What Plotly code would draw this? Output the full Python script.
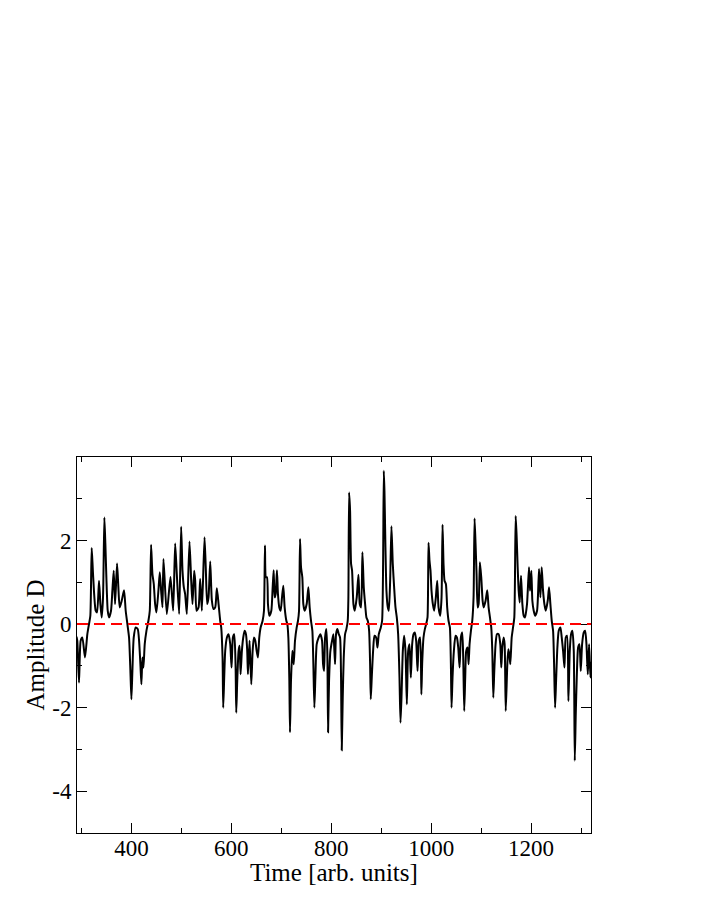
import plotly.graph_objects as go

# values (time, amplitude)
TIME = [
    290.0, 291.6, 295.0, 298.3, 301.7, 307.0, 311.7, 315.0, 317.7, 320.4,
    323.1, 328.4, 331.1, 335.1, 337.8, 340.4, 343.1, 345.8, 347.8, 349.8,
    352.5, 355.1, 359.1, 361.8, 364.5, 367.2, 371.2, 373.8, 376.5, 380.5,
    385.2, 388.5, 391.9, 395.2, 397.9, 399.9, 401.9, 404.6, 408.6, 412.6,
    415.3, 417.9, 419.9, 422.0, 424.0, 426.6, 430.0, 434.0, 436.7, 439.3,
    442.0, 444.7, 447.4, 450.0, 454.0, 456.7, 459.4, 462.1, 464.1, 470.8,
    478.1, 483.5, 487.5, 490.8, 495.5, 499.5, 502.2, 504.9, 507.5, 510.9,
    516.2, 519.6, 522.2, 525.6, 527.6, 530.3, 534.3, 537.6, 541.0, 546.3,
    549.0, 551.6, 554.3, 557.7, 561.0, 564.3, 567.7, 571.0, 574.4, 577.7,
    579.7, 582.4, 583.7, 585.7, 587.7, 591.1, 594.4, 597.8, 600.4, 603.1,
    605.8, 608.4, 609.8, 611.8, 614.5, 616.5, 618.5, 621.1, 623.8, 626.5,
    629.2, 631.8, 633.2, 636.5, 639.9, 642.6, 645.2, 647.9, 650.6, 653.2,
    655.9, 658.6, 662.6, 665.3, 667.3, 669.3, 671.3, 673.3, 676.0, 680.0,
    682.7, 684.7, 686.7, 688.7, 691.3, 693.3, 696.0, 698.7, 701.4, 704.0,
    706.7, 710.1, 712.1, 714.1, 716.1, 717.4, 719.4, 722.1, 724.8, 727.4,
    730.8, 733.4, 735.5, 737.5, 739.5, 742.1, 744.1, 746.8, 750.8, 754.2,
    756.8, 759.5, 762.2, 764.2, 766.2, 768.2, 770.9, 774.9, 778.2, 781.6,
    783.6, 785.6, 787.6, 790.2, 792.2, 793.6, 795.6, 798.3, 801.6, 804.3,
    807.6, 809.6, 812.3, 815.0, 817.6, 819.6, 821.0, 823.0, 825.0, 827.7,
    830.3, 833.0, 834.3, 835.7, 837.7, 839.7, 841.7, 844.4, 847.0, 851.0,
    854.4, 857.1, 859.7, 862.4, 865.1, 867.8, 870.4, 873.1, 875.8, 877.8,
    879.1, 881.1, 883.8, 886.5, 889.8, 892.5, 895.2, 899.2, 901.8, 903.8,
    905.2, 906.5, 908.5, 910.5, 913.2, 915.2, 917.9, 920.5, 923.2, 925.9,
    928.6, 931.2, 933.9, 936.6, 938.6, 940.6, 943.3, 945.9, 948.6, 951.3,
    954.0, 956.6, 959.3, 962.0, 964.7, 967.3, 970.0, 972.7, 975.3, 978.0,
    980.4, 982.0, 984.7, 987.4, 990.0, 992.7, 994.7, 996.7, 998.7, 1000.7,
    1003.4, 1006.1, 1009.4, 1012.1, 1014.8, 1018.1, 1020.8, 1022.8, 1024.8, 1026.8,
    1029.5, 1032.1, 1034.8, 1037.5, 1039.5, 1040.8, 1042.8, 1045.5, 1048.8, 1051.5,
    1054.2, 1056.9, 1059.5, 1062.2, 1064.2, 1066.2, 1068.2, 1070.2, 1072.9, 1074.9,
    1076.9, 1079.6, 1082.3, 1084.9, 1086.9, 1088.9, 1090.9, 1093.0, 1095.0, 1097.6,
    1100.3, 1103.0, 1105.0, 1109.0, 1112.3, 1115.0, 1117.7, 1120.3, 1122.4, 1124.4,
    1126.4, 1129.0, 1131.7, 1135.1, 1138.4, 1140.4, 1142.4, 1145.1, 1147.1, 1149.3,
    1152.5, 1154.5, 1156.5, 1158.5, 1161.2, 1163.9, 1166.5, 1169.2, 1171.2, 1173.2,
    1175.2, 1177.2, 1179.9, 1182.6, 1185.3, 1187.9, 1191.9, 1195.9, 1197.9, 1200.6,
    1202.6, 1205.3, 1208.0, 1212.0, 1216.0, 1218.7, 1221.3, 1224.0, 1226.7, 1229.4,
    1233.4, 1236.0, 1238.7, 1241.4, 1244.1, 1246.1, 1248.1, 1250.1, 1252.7, 1255.4,
    1258.8, 1261.4, 1264.1, 1266.8, 1269.5, 1272.1, 1274.8, 1277.5, 1280.1, 1282.8,
    1285.5, 1287.5, 1289.5, 1291.5, 1294.2, 1296.9, 1299.5, 1302.2, 1305.5, 1308.2,
    1310.9, 1313.6, 1316.2, 1318.9, 1321.0,
]

AMPLITUDE = [
    -0.30, -0.40, -1.40, -0.40, -0.32, -0.80, -0.24, 0.00, 0.20, 1.82,
    1.20, 0.32, 0.28, 1.04, 0.48, 0.16, 0.64, 2.55, 1.92, 1.12,
    0.32, 0.16, 0.32, 0.80, 1.28, 0.48, 1.45, 0.88, 0.40, 0.56,
    0.81, 0.32, 0.00, -0.32, -1.12, -1.80, -1.12, -0.32, -0.08, -0.12,
    -0.40, -0.96, -1.44, -0.80, -1.04, -0.48, -0.16, 0.08, 0.32, 1.90,
    1.20, 0.96, 0.48, 0.28, 0.80, 1.24, 0.80, 0.40, 1.56, 0.24,
    1.13, 0.32, 1.93, 1.20, 0.24, 2.33, 1.28, 0.88, 0.72, 0.24,
    1.98, 1.04, 0.48, 1.28, 1.04, 0.32, 0.40, 1.08, 0.32, 2.08,
    1.28, 0.48, 0.64, 1.50, 0.56, 0.36, 0.40, 0.86, 0.48, 0.08,
    -0.08, -0.80, -2.00, -1.28, -0.64, -0.32, -0.24, -0.48, -1.04, -0.32,
    -0.24, -0.96, -2.12, -1.36, -0.64, -0.52, -1.20, -0.64, -0.32, -0.16,
    -0.24, -0.64, -1.20, -0.40, -1.44, -0.64, -0.32, -0.40, -0.64, -0.80,
    -0.32, -0.08, 0.08, 0.32, 1.88, 1.12, 1.12, 0.48, 0.20, 0.32,
    0.88, 1.29, 0.64, 0.72, 1.29, 0.72, 0.40, 0.32, 0.64, 0.92,
    0.40, 0.08, 0.00, -0.32, -1.36, -2.59, -1.36, -0.64, -0.96, -0.40,
    -0.08, 0.08, 0.32, 2.04, 1.36, 1.12, 0.48, 0.32, 0.48, 0.88,
    0.40, 0.08, -0.16, -0.96, -2.00, -1.28, -0.48, -0.32, -0.24, -0.40,
    -0.96, -1.12, -0.32, -0.12, -0.72, -2.59, -1.36, -0.64, -0.40, -0.24,
    -0.96, -0.24, -0.12, -0.24, -0.32, -1.28, -3.02, -1.76, -0.80, -0.24,
    -0.12, 0.08, 0.64, 3.15, 2.71, 1.44, 1.28, 0.48, 0.32, 0.64,
    1.18, 0.48, 0.40, 1.72, 0.88, 0.48, 0.16, 0.08, -0.16, -0.96,
    -1.80, -1.28, -0.64, -0.28, -0.32, -0.56, -0.24, -0.08, 0.08, 1.44,
    3.67, 3.19, 1.84, 0.80, 0.40, 0.32, 1.04, 2.34, 1.44, 0.88,
    0.40, 0.16, -0.24, -1.28, -2.36, -1.76, -0.64, -0.28, -0.64, -1.92,
    -0.64, -0.48, -1.28, -0.48, -0.24, -0.20, -0.40, -1.12, -0.40, -0.32,
    -1.68, -0.96, -0.32, -0.12, 0.00, 0.16, 1.95, 1.52, 1.28, 0.80,
    0.48, 0.32, 0.64, 1.04, 0.40, 0.20, 0.64, 2.38, 1.44, 1.04,
    0.96, 0.40, 0.08, -0.08, -0.96, -2.00, -1.28, -0.64, -0.28, -0.32,
    -0.56, -1.04, -0.32, -0.20, -0.80, -2.08, -1.28, -0.64, -0.56, -0.96,
    -0.48, -0.16, 0.08, 0.64, 2.53, 1.92, 1.20, 0.40, 0.48, 1.48,
    1.12, 0.56, 0.40, 0.56, 0.81, 0.40, 0.16, -0.08, -0.64, -1.76,
    -1.12, -0.48, -0.24, -0.24, -0.48, -1.04, -0.56, -0.32, -0.48, -2.08,
    -0.96, -0.60, -0.72, -0.96, -0.32, -0.08, 0.16, 2.59, 2.08, 1.36,
    0.80, 0.52, 1.16, 0.48, 0.20, 0.16, 0.48, 1.36, 0.80, 1.28,
    0.56, 0.32, 0.20, 0.32, 1.32, 0.64, 1.36, 0.80, 0.48, 0.32,
    0.56, 0.88, 0.48, 0.08, -0.16, -0.96, -2.00, -1.36, -0.56, -0.16,
    -0.08, -0.32, -0.64, -1.04, -0.32, -0.28, -1.84, -0.64, -0.24, -0.16,
    -0.64, -3.27, -2.16, -1.28, -0.56, -0.48, -1.12, -0.48, -0.20, -0.16,
    -0.48, -1.20, -0.48, -1.28, -0.90,
]

X_TICKS = [400, 600, 800, 1000, 1200]
Y_TICKS = [-4, -2, 0, 2]
Y_TICK_LABELS = ["-4", "-2", "0", "2"]

FONT = "Liberation Serif, Times New Roman, serif"

fig = go.Figure()
fig.add_trace(go.Scatter(
    x=TIME, y=AMPLITUDE, mode="lines",
    line=dict(color="black", width=2, shape="spline", smoothing=0.6),
    showlegend=False,
))
fig.add_hline(y=0, line=dict(color="#ff0000", width=2, dash="11px,6px"))

axis_common = dict(
    showline=True, linecolor="black", linewidth=1, mirror="ticks",
    ticks="inside", ticklen=10, tickcolor="black", tickwidth=1,
    showgrid=False, zeroline=False,
    tickfont=dict(family=FONT, size=23, color="black"),
)

# x title as an annotation so it can sit closer to the tick labels
fig.add_annotation(
    text="Time [arb. units]", xref="paper", yref="paper",
    x=0.5, y=0, xanchor="center", yanchor="middle", yshift=-39,
    showarrow=False, font=dict(family=FONT, size=25, color="black"),
)

# the page body adds an 8px offset, so margins are trimmed to land the
# plot box where the reference has it
fig.update_layout(
    width=706, height=913,
    paper_bgcolor="white", plot_bgcolor="white",
    margin=dict(l=69, r=123, t=449, b=88),
    xaxis=dict(
        range=[291, 1320],
        tickvals=X_TICKS,
        ticklabelstandoff=-6,
        minor=dict(dtick=100, tick0=0, ticks="inside", ticklen=5,
                   tickcolor="black", showgrid=False),
        **axis_common,
    ),
    yaxis=dict(
        range=[-5, 4],
        tickvals=Y_TICKS, ticktext=Y_TICK_LABELS,
        minor=dict(dtick=1, tick0=0, ticks="inside", ticklen=5,
                   tickcolor="black", showgrid=False),
        title=dict(text="Amplitude D", standoff=0,
                   font=dict(family=FONT, size=25, color="black")),
        **axis_common,
    ),
)

fig.write_html("out.html")
